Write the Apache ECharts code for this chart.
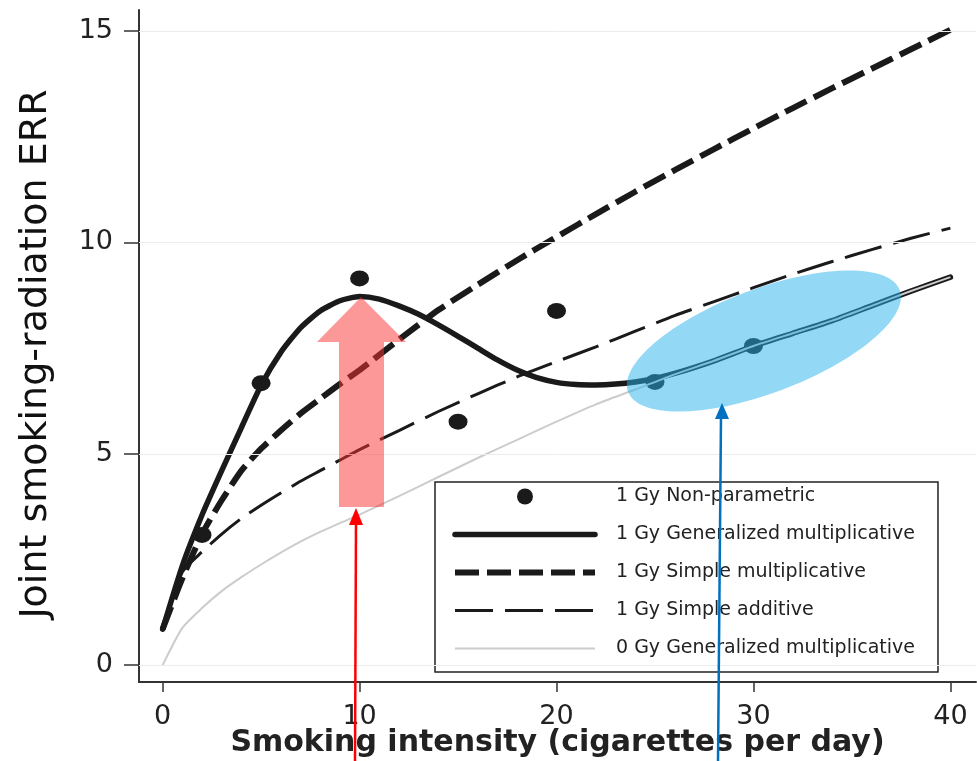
<!DOCTYPE html>
<html>
<head>
<meta charset="utf-8">
<script src="https://cdn.jsdelivr.net/npm/echarts@6/dist/echarts.min.js"></script>
<style>
html,body{margin:0;padding:0;background:#fff;}
#chart{width:977px;height:761px;}
</style>
</head>
<body>
<div id="chart"></div>
<script>
// ---- data ----
var xTicks = [0, 10, 20, 30, 40];
var yTicks = [0, 5, 10, 15];

var seriesNames = [
  '1 Gy Non-parametric',
  '1 Gy Generalized multiplicative',
  '1 Gy Simple multiplicative',
  '1 Gy Simple additive',
  '0 Gy Generalized multiplicative'
];

// non-parametric points
var npX = [2, 5, 10, 15, 20, 25, 30];
var npY = [3.08, 6.67, 9.15, 5.76, 8.38, 6.70, 7.55];

// 1 Gy generalized multiplicative
var gmX = [0,1,2,3,4,5,6,7,8,9,10,11,12,13,14,15,16,17,18,19,20,21,22,23,24,25,26,28,30,32,34,36,38,40];
var gmY = [0.85,2.35,3.55,4.6,5.62,6.62,7.4,7.98,8.38,8.62,8.72,8.66,8.5,8.3,8.05,7.78,7.5,7.22,6.98,6.8,6.69,6.64,6.63,6.65,6.7,6.78,6.9,7.2,7.55,7.85,8.15,8.5,8.85,9.18];

// x grid for the other fitted curves
var fitX = [0,1,2,3,4,5,6,7,8,9,10,12,14,16,18,20,22,24,26,28,30,32,34,36,38,40];
// 1 Gy simple multiplicative
var smY = [0.85,2.05,3.1,3.9,4.6,5.12,5.55,5.95,6.3,6.65,6.98,7.7,8.4,9.0,9.58,10.13,10.67,11.2,11.71,12.21,12.7,13.18,13.65,14.11,14.57,15.03];
// 1 Gy simple additive
var saY = [0.85,2.2,2.68,3.1,3.47,3.78,4.07,4.35,4.6,4.85,5.1,5.55,6.0,6.42,6.82,7.18,7.53,7.9,8.27,8.6,8.93,9.25,9.55,9.83,10.1,10.34];
// 0 Gy generalized multiplicative
var g0Y = [0,0.88,1.35,1.75,2.08,2.38,2.66,2.92,3.15,3.36,3.56,4.0,4.45,4.9,5.33,5.76,6.17,6.52,6.88,7.2,7.55,7.85,8.15,8.5,8.85,9.18];

function pairs(xs, ys){ return xs.map(function(x,i){ return [x, ys[i]]; }); }

var FONT = 'DejaVu Sans';
var chart = echarts.init(document.getElementById('chart'), null, {renderer:'canvas'});

var hiddenSym = { color: 'rgba(0,0,0,0)', borderWidth: 0, opacity: 0 };

var option = {
  animation: false,
  backgroundColor: '#fff',
  grid: { left: 139, top: 10, right: 1, bottom: 79, containLabel: false, outerBoundsMode: 'none' },
  xAxis: {
    type: 'value', min: -1.2, max: 41.3,
    axisLine: { show: true, onZero: false, lineStyle: { color: '#333', width: 2 } },
    axisTick: { show: true, inside: false, length: 10, customValues: xTicks, lineStyle: { color: '#333', width: 1.5 } },
    axisLabel: { customValues: xTicks, margin: 21, fontSize: 27, color: '#222', fontFamily: FONT },
    splitLine: { show: false },
    name: 'Smoking intensity (cigarettes per day)',
    nameLocation: 'middle', nameGap: 46, nameMoveOverlap: false,
    nameTextStyle: { fontSize: 30, fontWeight: 'bold', color: '#222', fontFamily: FONT }
  },
  yAxis: {
    type: 'value', min: -0.4, max: 15.5,
    axisLine: { show: true, onZero: false, lineStyle: { color: '#333', width: 2 } },
    axisTick: { show: true, inside: false, length: 15, customValues: yTicks, lineStyle: { color: '#333', width: 1.5 } },
    axisLabel: { customValues: yTicks, margin: 26, fontSize: 27, color: '#222', fontFamily: FONT },
    splitLine: { show: false },
    name: 'Joint smoking-radiation ERR',
    nameLocation: 'middle', nameGap: 84, nameMoveOverlap: false,
    nameTextStyle: { fontSize: 38, color: '#111', fontFamily: FONT, padding: [0, 16, 0, 0] }
  },
  legend: {
    orient: 'vertical', left: 435, top: 482,
    selectedMode: false,
    itemWidth: 140, itemHeight: 16, itemGap: 19,
    padding: [5, 23, 14, 17],
    borderColor: '#222', borderWidth: 1.5, backgroundColor: '#fff',
    lineStyle: { width: 'inherit' },
    textStyle: { fontSize: 19, color: '#222', fontFamily: FONT, lineHeight: 16, padding: [0, 0, 0, 16] },
    data: seriesNames.map(function(n, i){
      return i === 0 ? { name: n, icon: 'circle' } : { name: n, itemStyle: hiddenSym };
    })
  },
  series: [
    {
      name: seriesNames[0], type: 'scatter', z: 1,
      symbol: 'circle', symbolSize: [19, 16],
      itemStyle: { color: '#1a1a1a', opacity: 1 },
      data: pairs(npX, npY),
      markLine: {
        silent: true, symbol: 'none', label: { show: false },
        lineStyle: { color: '#ececec', width: 1, type: 'solid' },
        data: yTicks.map(function(v){ return { yAxis: v }; })
      }
    },
    {
      name: seriesNames[1], type: 'line', z: 2, symbol: 'none', smooth: 0.2,
      lineStyle: { color: '#1a1a1a', width: 5.5, cap: 'round' },
      itemStyle: { color: '#1a1a1a' },
      data: pairs(gmX, gmY)
    },
    {
      name: seriesNames[2], type: 'line', z: 2, symbol: 'none', smooth: 0.2,
      lineStyle: { color: '#1a1a1a', width: 6, type: [24, 8], cap: 'butt' },
      itemStyle: { color: '#1a1a1a' },
      data: pairs(fitX, smY)
    },
    {
      name: seriesNames[3], type: 'line', z: 2, symbol: 'none', smooth: 0.2,
      lineStyle: { color: '#1a1a1a', width: 3, type: [38, 12], cap: 'butt' },
      itemStyle: { color: '#1a1a1a' },
      data: pairs(fitX, saY)
    },
    {
      name: seriesNames[4], type: 'line', z: 3, symbol: 'none', smooth: 0.2,
      lineStyle: { color: '#cccccc', width: 2 },
      itemStyle: { color: '#cccccc' },
      data: pairs(fitX, g0Y)
    }
  ],
  graphic: [
    { type: 'polygon', z: 100,
      shape: { points: [[361,297],[406,342],[384,342],[384,507],[339,507],[339,342],[317,342]] },
      style: { fill: 'rgba(250,50,50,0.5)' } },
    { type: 'ellipse', z: 100,
      shape: { cx: 764, cy: 341, rx: 145, ry: 52 },
      originX: 764, originY: 341, rotation: 0.36,
      style: { fill: 'rgba(40,178,235,0.5)' } },
    { type: 'line', z: 101,
      shape: { x1: 355, y1: 761, x2: 356, y2: 522 },
      style: { stroke: '#ff0000', lineWidth: 2.5 } },
    { type: 'polygon', z: 101,
      shape: { points: [[356,508],[363,525],[349,525]] },
      style: { fill: '#ff0000' } },
    { type: 'line', z: 101,
      shape: { x1: 718, y1: 761, x2: 721, y2: 416 },
      style: { stroke: '#0070c0', lineWidth: 2.5 } },
    { type: 'polygon', z: 101,
      shape: { points: [[722,403],[729,419],[715,419]] },
      style: { fill: '#0070c0' } }
  ]
};
chart.setOption(option);
</script>
</body>
</html>
